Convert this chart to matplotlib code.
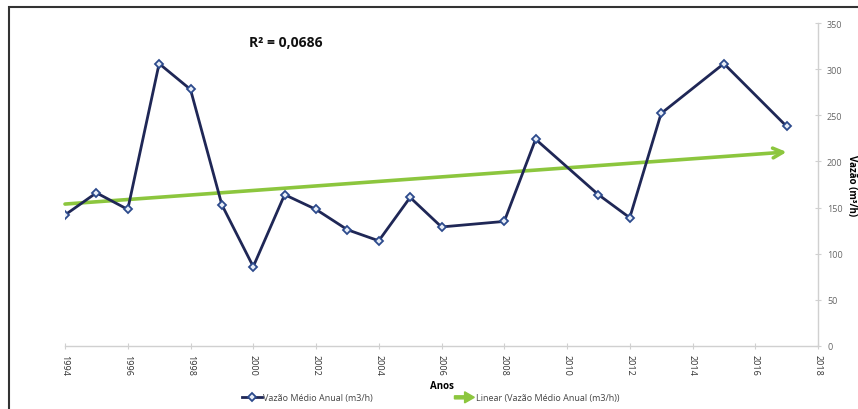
import numpy as np
import matplotlib
matplotlib.use("Agg")
import matplotlib.pyplot as plt
from matplotlib.lines import Line2D
from matplotlib.patches import FancyArrow, Rectangle
from matplotlib.legend_handler import HandlerPatch

plt.rcParams['font.family'] = ['Open Sans', 'DejaVu Sans']

# annual mean flow (m3/h)
years = [1994, 1995, 1996, 1997, 1998, 1999, 2000, 2001, 2002, 2003, 2004, 2005,
         2006, 2008, 2009, 2011, 2012, 2013, 2015, 2017]
flow = [142, 166, 148, 306, 278, 153, 86, 164, 148, 126, 114, 161,
        129, 135, 224, 164, 139, 252, 306, 238]
r2_label = "R² = 0,0686"
xticks = list(range(1994, 2019, 2))
yticks = list(range(0, 351, 50))

NAVY = "#1f2756"
MARK = "#2c4a8c"
GREEN = "#8cc63e"
GRAY = "#d0d0d0"

fig = plt.figure(figsize=(8.58, 4.10), dpi=100)
ax = fig.add_axes([65/858, 1 - 347/410, 753/858, 323/410])

ax.plot(years, flow, color=NAVY, lw=2.0, marker="D", ms=4.5,
        mfc="#e8eef8", mec=MARK, mew=1.3, zorder=3)

# linear trend
coef = np.polyfit(years, flow, 1)
x0, x1 = years[0], years[-1]
y0, y1 = np.polyval(coef, x0), np.polyval(coef, x1)
ax.annotate("", xy=(x1, y1), xytext=(x0, y0),
            arrowprops=dict(arrowstyle="->,head_length=0.7,head_width=0.35",
                            color=GREEN, lw=2.6, shrinkA=0, shrinkB=0),
            zorder=2)

ax.set_xlim(1994, 2018)
ax.set_ylim(0, 350)
ax.set_xticks(xticks)
ax.set_xticklabels([str(t) for t in xticks], rotation=270, fontsize=6.5, color="#333333")
ax.yaxis.tick_right()
ax.yaxis.set_label_position("right")
ax.set_yticks(yticks)
ax.set_yticklabels([str(t) for t in yticks], fontsize=6.5, color="#666666")
for s in ["top", "left"]:
    ax.spines[s].set_visible(False)
for s in ["bottom", "right"]:
    ax.spines[s].set_color(GRAY)
    ax.spines[s].set_linewidth(1.0)
ax.tick_params(axis="x", direction="inout", length=5, color=GRAY, pad=3)
ax.tick_params(axis="y", direction="inout", length=5, color=GRAY, pad=4)

ax.set_xlabel("Anos", fontsize=7, fontweight="bold", labelpad=4)
ax.set_ylabel("Vazão (m³/h)", fontsize=7, fontweight="bold", rotation=270, labelpad=10)

ax.text(0.245, 0.93, r2_label, transform=ax.transAxes, fontsize=10,
        fontweight="bold", color="#111111")


def make_arrow(legend, orig_handle, xdescent, ydescent, width, height, fontsize):
    return FancyArrow(0, height / 2, width, 0, width=2.2, head_width=8,
                      head_length=7, length_includes_head=True,
                      color=GREEN)


handles = [Line2D([], [], color=NAVY, lw=2.0, marker="D", ms=4.5,
                  mfc="#e8eef8", mec=MARK, mew=1.3),
           FancyArrow(0, 0, 1, 0, color=GREEN)]
labels = ["Vazão Médio Anual (m3/h)", "Linear (Vazão Médio Anual (m3/h))"]
fig.legend(handles, labels, loc="center", bbox_to_anchor=(0.502, 1 - 399/410),
           ncol=2, frameon=False, fontsize=6.5, columnspacing=9,
           handlelength=2.2, handletextpad=0.2, labelcolor="#444444",
           handler_map={FancyArrow: HandlerPatch(patch_func=make_arrow)})

# outer chart border (cut at right and bottom)
fig.patches.append(Rectangle((9/858, -0.1), 1.2, 1.1 - 8/410, transform=fig.transFigure,
                             fill=False, edgecolor="#333333", lw=1.5))

fig.savefig("out.png", dpi=100)
